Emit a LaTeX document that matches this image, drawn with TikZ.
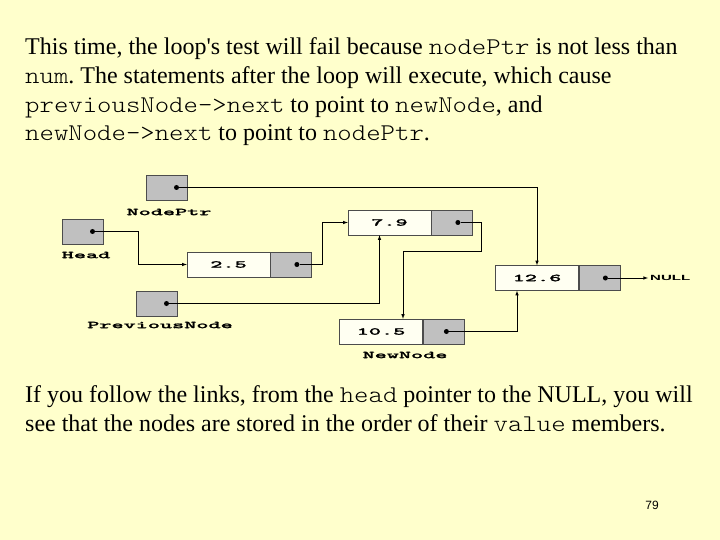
\documentclass[tikz,border=0pt]{standalone}
\usepackage{fontspec}
\setmainfont{Liberation Serif}
\setmonofont[FakeStretch=1.143]{lmmonolt10-regular.otf}
\setsansfont{Liberation Sans}
\newfontfamily\lblfont[FakeStretch=2.2,FakeBold=1.5]{lmmonolt10-bold.otf}
\newfontfamily\nilfont[FakeStretch=2]{Liberation Sans}
\usetikzlibrary{positioning}
\frenchspacing

\definecolor{slidebg}{HTML}{FFFFCC}
\definecolor{boxgray}{HTML}{C0C0C0}

\tikzset{
  valbox/.style={draw=black!70, fill=slidebg!25!white, minimum width=83pt, minimum height=25pt,
    inner sep=0pt, font=\lblfont\fontsize{10.5}{10.5}\selectfont},
  ptrbox/.style={draw=black!70, fill=boxgray, minimum width=41pt, minimum height=25pt, inner sep=0pt},
  ptrdot/.style={circle, fill=black, inner sep=0pt, minimum size=5pt},
  varname/.style={font=\lblfont\fontsize{10.5}{10.5}\selectfont, inner sep=1pt},
  link/.style={-latex, line width=0.6pt},
  slidetext/.style={anchor=base west, align=left, inner sep=0pt, font=\fontsize{24}{28.7}\selectfont},
}

\begin{document}
\begin{tikzpicture}[x=1pt, y=-1pt]
  \fill[slidebg] (0,0) rectangle (720,540);
  \useasboundingbox (0,0) rectangle (720,540);

  % text of the slide (placed at the baseline of the last line)
  \node[slidetext] (intro) at (25,141)
    {This time, the loop\textquotesingle s test will fail because \texttt{nodePtr} is not less than\\
     \texttt{num}. The statements after the loop will execute, which cause\\
     \texttt{previousNode->next} to point to \texttt{newNode}, and\\
     \texttt{newNode->next} to point to \texttt{nodePtr}.};
  \node[slidetext] (outro) at (25,431)
    {If you follow the links, from the \texttt{head} pointer to the NULL, you will\\
     see that the nodes are stored in the order of their \texttt{value} members.};
  \node[font=\sffamily\fontsize{12}{12}\selectfont] (pageno) at (652,505) {79};

  % pointer variables
  \node[ptrbox] (nodeptr) at (166.5,187.5) {};
  \node[ptrdot] (npdot) at ([xshift=10pt]nodeptr.center) {};
  \node[varname] (nodeptrlbl) at (169,212) {NodePtr};

  \node[ptrbox] (head) at (82.5,231.5) {};
  \node[ptrdot] (hdot) at ([xshift=10pt]head.center) {};
  \node[varname] (headlbl) at (86,255) {Head};

  \node[ptrbox] (prevnode) at (156.5,303.5) {};
  \node[ptrdot] (pdot) at ([xshift=10pt]prevnode.center) {};
  \node[varname] (prevlbl) at (160,325) {PreviousNode};

  % list nodes
  \node[valbox] (v25) at (228.5,264.5) {2.5};
  \node[ptrbox, right=0pt of v25] (p25) {};
  \node[ptrdot] (d25) at ([xshift=6pt]p25.center) {};

  \node[valbox] (v79) at (389.5,222.5) {7.9};
  \node[ptrbox, right=0pt of v79] (p79) {};
  \node[ptrdot] (d79) at ([xshift=6pt]p79.center) {};

  \node[valbox] (v105) at (381,331.5) {10.5};
  \node[ptrbox, right=0pt of v105] (p105) {};
  \node[ptrdot] (d105) at ([xshift=3pt]p105.center) {};
  \node[varname] (newlbl) at (405,355) {NewNode};

  \node[valbox] (v126) at (537,278) {12.6};
  \node[ptrbox, right=0pt of v126] (p126) {};
  \node[ptrdot] (d126) at ([xshift=6pt]p126.center) {};
  \node[anchor=west, inner sep=2pt, font=\nilfont\bfseries\fontsize{7.5}{7.5}\selectfont] (null) at (648,278) {NULL};

  % links
  \draw[link] (npdot) -| (v126.north);
  \draw[link] (hdot) -- ++(46,0) |- (v25.west);
  \draw[link] (d25) -- ++(25,0) |- (v79.west);
  \draw[link] (d79) -- ++(23,0) -- ++(0,29) -| ([xshift=22pt]v105.north);
  \draw[link] (pdot) -| ([xshift=-10pt]v79.south);
  \draw[link] (d105) -| ([xshift=-20pt]v126.south);
  \draw[link] (d126) -- (null);
\end{tikzpicture}
\end{document}
